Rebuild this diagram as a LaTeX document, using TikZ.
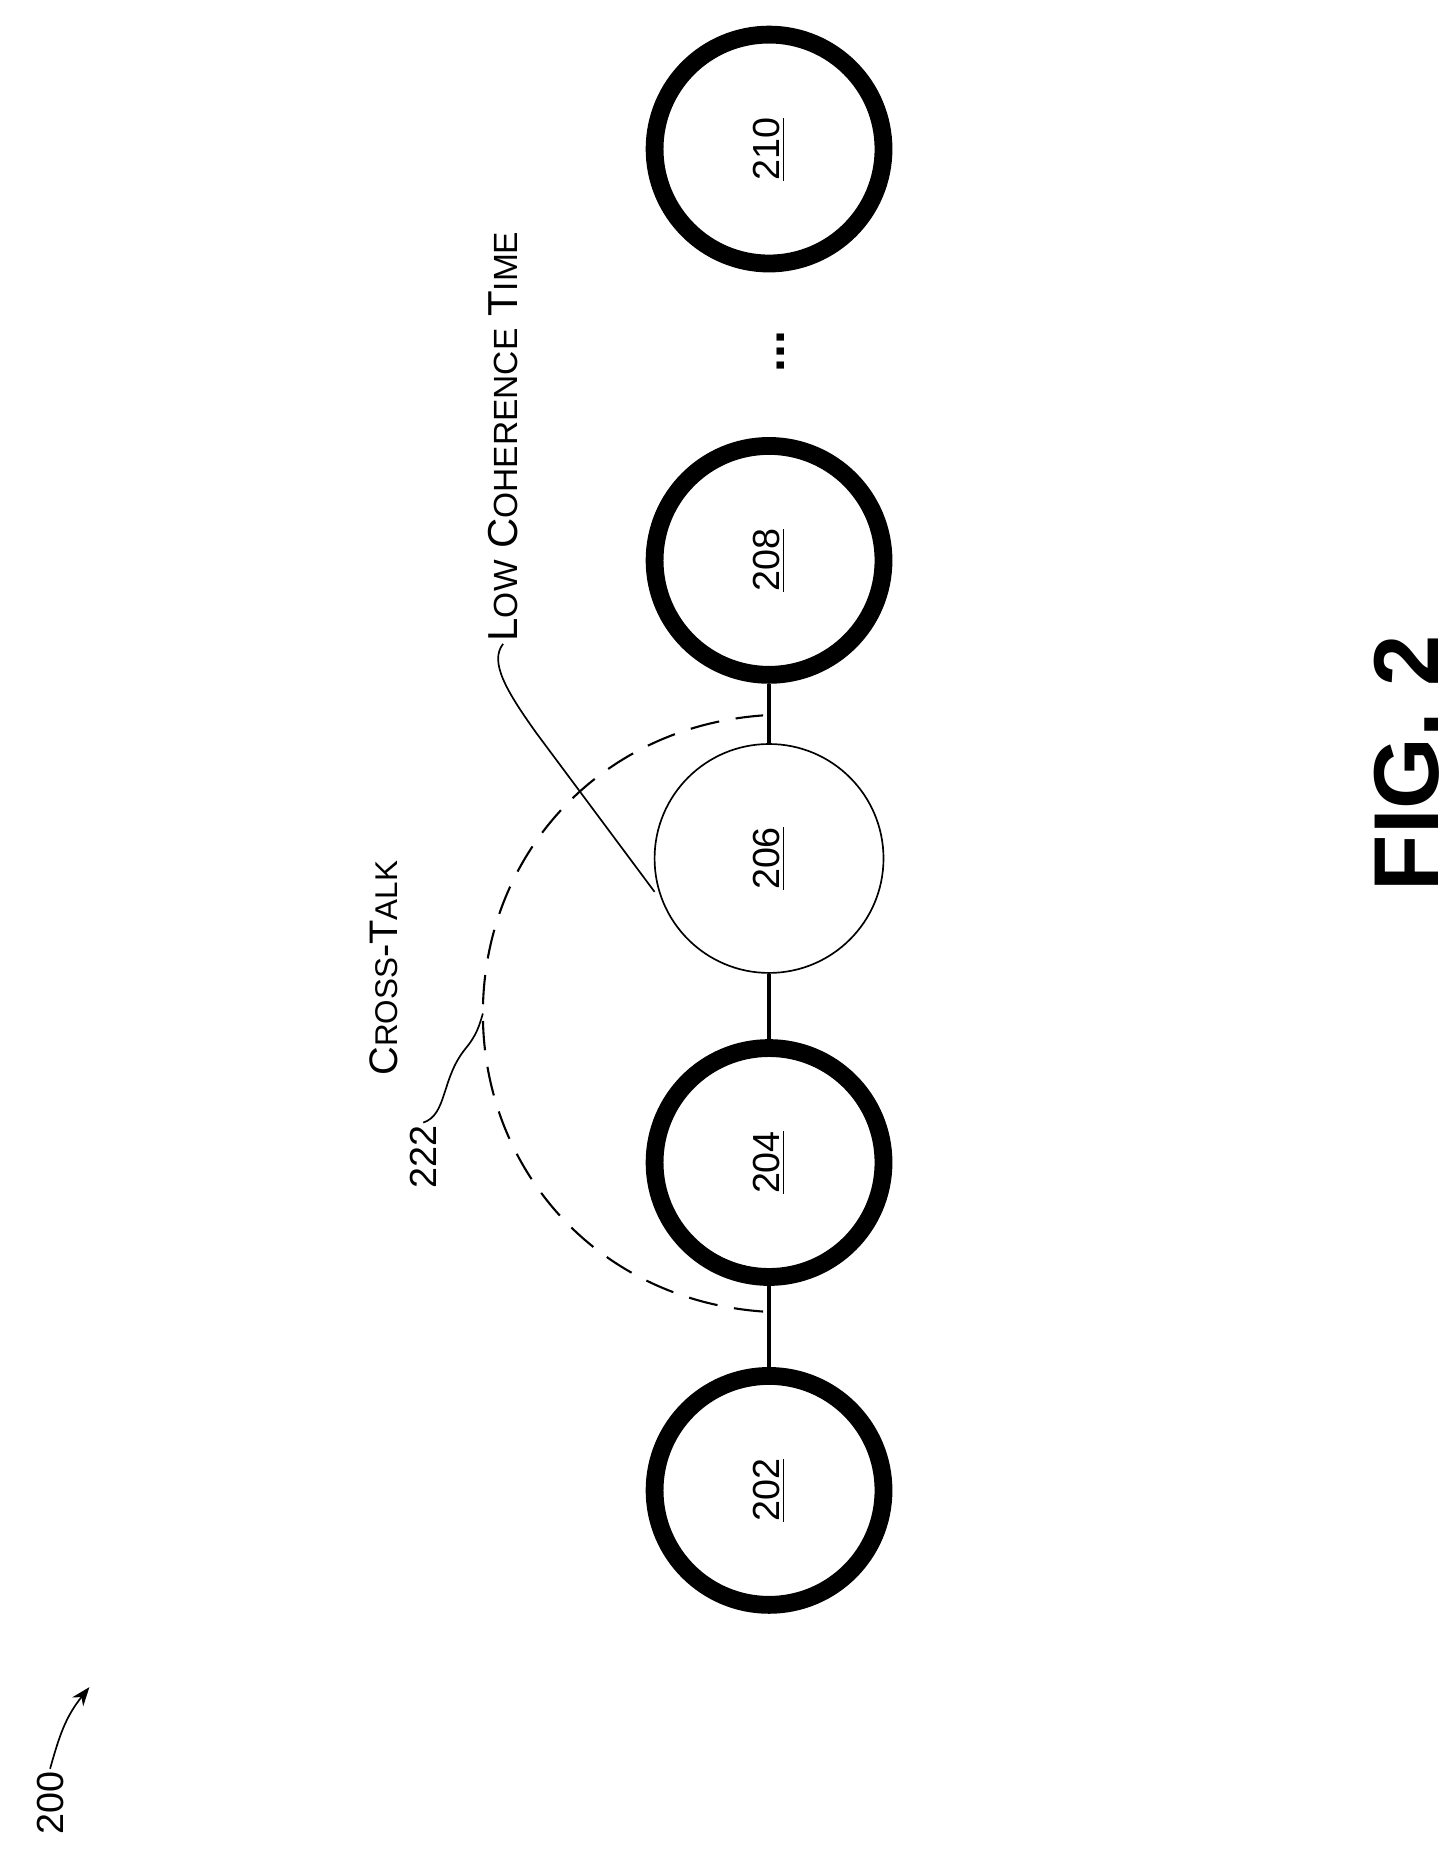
\documentclass[tikz,border=0pt]{standalone}
\usepackage{fontspec}
\setmainfont{Liberation Sans}
\usetikzlibrary{arrows.meta}
\begin{document}
\begin{tikzpicture}[x=0.02cm,y=-0.02cm,
  q/.style={circle,draw,line width=8.5pt,minimum size=192*0.02cm,inner sep=0pt,font=\fontsize{18}{20}\selectfont,rotate=90},
  qt/.style={circle,draw,line width=0.8pt,minimum size=192*0.02cm,inner sep=0pt,font=\fontsize{18}{20}\selectfont,rotate=90},
  lab/.style={rotate=90,font=\fontsize{18}{20}\selectfont,inner sep=1pt}]
\useasboundingbox (0,0) rectangle (1220,1560);
\node[q] (a) at (645,1250) {\underline{202}};
\node[q] (b) at (645,975) {\underline{204}};
\node[qt] (c) at (645,720) {\underline{206}};
\node[q] (d) at (645,470) {\underline{208}};
\node[q] (e) at (645,125) {\underline{210}};
\node[rotate=90,font=\fontsize{24}{26}\selectfont\bfseries] (dots) at (655,295) {...};
\draw[line width=1.5pt] (a) -- (b) (b) -- (c) (c) -- (d);
\coordinate (s) at (640,1100);
\coordinate (t) at (640,600);
\draw[dashed,dash pattern=on 14pt off 8pt,line width=1pt] (s) .. controls (500,1090) and (405,980) .. (405,850) .. controls (405,720) and (500,610) .. (t);
\coordinate (arcp) at (405,850);
\coordinate (cp) at (549,748);
\node[lab,font=\fontsize{19}{21}\selectfont] (ct) at (322,812) {C{\fontsize{15}{17}\selectfont ROSS}-T{\fontsize{15}{17}\selectfont ALK}};
\node[lab] (n222) at (355,970) {222};
\draw[line width=0.8pt] (n222.east) .. controls (375,935) and (370,905) .. (390,880) .. controls (400,868) and (402,860) .. (arcp);
\node[lab,anchor=west,font=\fontsize{20}{22}\selectfont] (lct) at (422,540) {L{\fontsize{16}{18}\selectfont OW} C{\fontsize{16}{18}\selectfont OHERENCE} T{\fontsize{16}{18}\selectfont IME}};
\draw[line width=0.8pt] (lct.west) .. controls (410,555) and (425,580) .. (450,615) -- (cp);
\node[rotate=90,font=\fontsize{44}{48}\selectfont\bfseries] (fig) at (1180,640) {FIG. 2};
\node[lab] (n200) at (42,1512) {200};
\draw[line width=0.8pt,-{Stealth[length=9pt]}] (n200.east) .. controls (50,1455) and (55,1440) .. (75,1415);
\end{tikzpicture}
\end{document}
